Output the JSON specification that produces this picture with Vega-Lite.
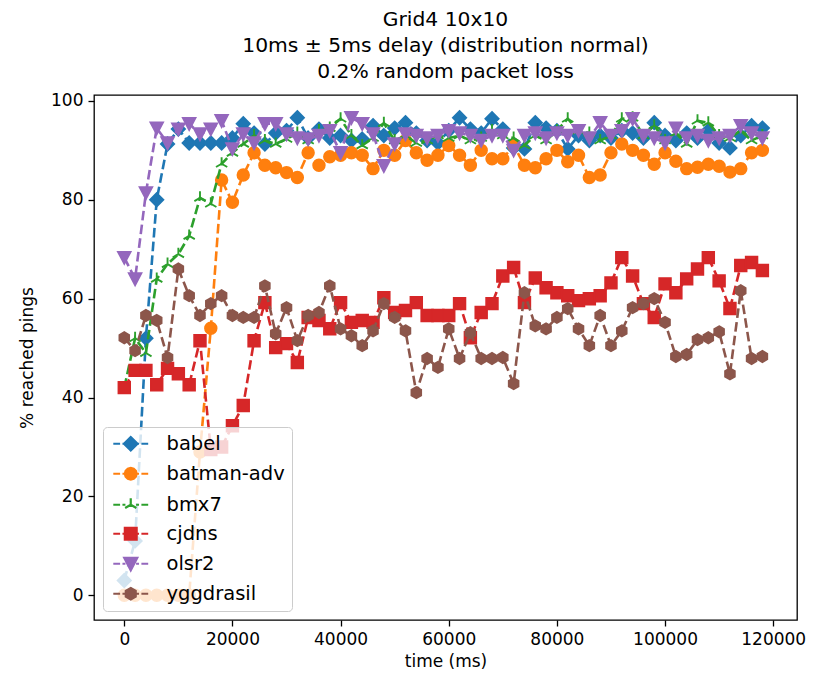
{
"$schema": "https://vega.github.io/schema/vega-lite/v6.json",
"width": 703, "height": 525,
"autosize": {"type": "none"},
"padding": {"left": 94, "top": 95, "right": 18, "bottom": 59},
"background": "white",
"config": {
  "font": "DejaVu Sans",
  "view": {"stroke": "black", "strokeWidth": 1.3},
  "axis": {"grid": false, "domain": false, "tickColor": "black", "tickSize": 6, "tickWidth": 1.3, "labelFontSize": 17, "labelColor": "black", "titleFontSize": 17, "titleFontWeight": "normal", "titleColor": "black", "labelFont": "DejaVu Sans", "titleFont": "DejaVu Sans", "labelPadding": 5},
  "legend": {"labelFontSize": 19.5, "labelColor": "black", "labelFont": "DejaVu Sans", "orient": "bottom-left", "offset": 9, "fillColor": "rgba(255,255,255,0.8)", "strokeColor": "#cccccc", "cornerRadius": 4, "padding": 7, "rowPadding": 8, "symbolSize": 125, "symbolOffset": 11, "labelOffset": 26, "symbolStrokeWidth": 2.2, "symbolOpacity": 1}
},
"title": {"text": ["Grid4 10x10", "10ms ± 5ms delay (distribution normal)", "0.2% random packet loss"], "fontSize": 20.3, "fontWeight": "normal", "lineHeight": 26, "font": "DejaVu Sans", "anchor": "middle", "offset": 10, "color": "black"},
"data": {"values": [
{"time":0,"protocol":"babel","pct":3},{"time":2000,"protocol":"babel","pct":11},{"time":4000,"protocol":"babel","pct":52},{"time":6000,"protocol":"babel","pct":80},{"time":8000,"protocol":"babel","pct":91.3},{"time":10000,"protocol":"babel","pct":94.3},{"time":12000,"protocol":"babel","pct":91.5},{"time":14000,"protocol":"babel","pct":91.5},{"time":16000,"protocol":"babel","pct":91.5},{"time":18000,"protocol":"babel","pct":91.5},
{"time":20000,"protocol":"babel","pct":92.5},{"time":22000,"protocol":"babel","pct":95.4},{"time":24000,"protocol":"babel","pct":93.5},{"time":26000,"protocol":"babel","pct":91.3},{"time":28000,"protocol":"babel","pct":93.5},{"time":30000,"protocol":"babel","pct":94},{"time":32000,"protocol":"babel","pct":96.6},{"time":34000,"protocol":"babel","pct":92.5},{"time":36000,"protocol":"babel","pct":94.3},{"time":38000,"protocol":"babel","pct":92.5},
{"time":40000,"protocol":"babel","pct":93},{"time":42000,"protocol":"babel","pct":92},{"time":44000,"protocol":"babel","pct":92.3},{"time":46000,"protocol":"babel","pct":95},{"time":48000,"protocol":"babel","pct":93},{"time":50000,"protocol":"babel","pct":94.5},{"time":52000,"protocol":"babel","pct":95.6},{"time":54000,"protocol":"babel","pct":93.5},{"time":56000,"protocol":"babel","pct":92},{"time":58000,"protocol":"babel","pct":91.5},
{"time":60000,"protocol":"babel","pct":94},{"time":62000,"protocol":"babel","pct":96.6},{"time":64000,"protocol":"babel","pct":94.3},{"time":66000,"protocol":"babel","pct":93.5},{"time":68000,"protocol":"babel","pct":96.4},{"time":70000,"protocol":"babel","pct":94.3},{"time":72000,"protocol":"babel","pct":90.5},{"time":74000,"protocol":"babel","pct":90.3},{"time":76000,"protocol":"babel","pct":95.6},{"time":78000,"protocol":"babel","pct":94.5},
{"time":80000,"protocol":"babel","pct":94},{"time":82000,"protocol":"babel","pct":90.3},{"time":84000,"protocol":"babel","pct":93},{"time":86000,"protocol":"babel","pct":92},{"time":88000,"protocol":"babel","pct":93},{"time":90000,"protocol":"babel","pct":92.5},{"time":92000,"protocol":"babel","pct":94},{"time":94000,"protocol":"babel","pct":93.5},{"time":96000,"protocol":"babel","pct":92.5},{"time":98000,"protocol":"babel","pct":95.6},
{"time":100000,"protocol":"babel","pct":93},{"time":102000,"protocol":"babel","pct":92},{"time":104000,"protocol":"babel","pct":93.5},{"time":106000,"protocol":"babel","pct":92.5},{"time":108000,"protocol":"babel","pct":94},{"time":110000,"protocol":"babel","pct":91.5},{"time":112000,"protocol":"babel","pct":90.5},{"time":114000,"protocol":"babel","pct":93},{"time":116000,"protocol":"babel","pct":95},{"time":118000,"protocol":"babel","pct":94.5},

{"time":0,"protocol":"batman-adv","pct":0},{"time":2000,"protocol":"batman-adv","pct":0},{"time":4000,"protocol":"batman-adv","pct":0},{"time":6000,"protocol":"batman-adv","pct":0},{"time":8000,"protocol":"batman-adv","pct":0},{"time":10000,"protocol":"batman-adv","pct":0},{"time":12000,"protocol":"batman-adv","pct":0},{"time":14000,"protocol":"batman-adv","pct":29},{"time":16000,"protocol":"batman-adv","pct":54},{"time":18000,"protocol":"batman-adv","pct":84},
{"time":20000,"protocol":"batman-adv","pct":79.5},{"time":22000,"protocol":"batman-adv","pct":85},{"time":24000,"protocol":"batman-adv","pct":89.5},{"time":26000,"protocol":"batman-adv","pct":87},{"time":28000,"protocol":"batman-adv","pct":86.5},{"time":30000,"protocol":"batman-adv","pct":85.5},{"time":32000,"protocol":"batman-adv","pct":84.5},{"time":34000,"protocol":"batman-adv","pct":89.5},{"time":36000,"protocol":"batman-adv","pct":87},{"time":38000,"protocol":"batman-adv","pct":88.7},
{"time":40000,"protocol":"batman-adv","pct":89},{"time":42000,"protocol":"batman-adv","pct":89.5},{"time":44000,"protocol":"batman-adv","pct":89},{"time":46000,"protocol":"batman-adv","pct":86.3},{"time":48000,"protocol":"batman-adv","pct":90},{"time":50000,"protocol":"batman-adv","pct":89},{"time":52000,"protocol":"batman-adv","pct":92},{"time":54000,"protocol":"batman-adv","pct":89.5},{"time":56000,"protocol":"batman-adv","pct":88},{"time":58000,"protocol":"batman-adv","pct":89},
{"time":60000,"protocol":"batman-adv","pct":91},{"time":62000,"protocol":"batman-adv","pct":89},{"time":64000,"protocol":"batman-adv","pct":87},{"time":66000,"protocol":"batman-adv","pct":90},{"time":68000,"protocol":"batman-adv","pct":88.3},{"time":70000,"protocol":"batman-adv","pct":88.3},{"time":72000,"protocol":"batman-adv","pct":91},{"time":74000,"protocol":"batman-adv","pct":87},{"time":76000,"protocol":"batman-adv","pct":86.5},{"time":78000,"protocol":"batman-adv","pct":88.3},
{"time":80000,"protocol":"batman-adv","pct":90},{"time":82000,"protocol":"batman-adv","pct":87.7},{"time":84000,"protocol":"batman-adv","pct":89},{"time":86000,"protocol":"batman-adv","pct":84.5},{"time":88000,"protocol":"batman-adv","pct":85},{"time":90000,"protocol":"batman-adv","pct":89.5},{"time":92000,"protocol":"batman-adv","pct":91.3},{"time":94000,"protocol":"batman-adv","pct":90},{"time":96000,"protocol":"batman-adv","pct":89},{"time":98000,"protocol":"batman-adv","pct":87.2},
{"time":100000,"protocol":"batman-adv","pct":89.5},{"time":102000,"protocol":"batman-adv","pct":87.8},{"time":104000,"protocol":"batman-adv","pct":86.3},{"time":106000,"protocol":"batman-adv","pct":86.6},{"time":108000,"protocol":"batman-adv","pct":87.2},{"time":110000,"protocol":"batman-adv","pct":86.8},{"time":112000,"protocol":"batman-adv","pct":85.6},{"time":114000,"protocol":"batman-adv","pct":86.3},{"time":116000,"protocol":"batman-adv","pct":89.5},{"time":118000,"protocol":"batman-adv","pct":90},

{"time":0,"protocol":"bmx7","pct":42},{"time":2000,"protocol":"bmx7","pct":52},{"time":4000,"protocol":"bmx7","pct":49},{"time":6000,"protocol":"bmx7","pct":64},{"time":8000,"protocol":"bmx7","pct":67},{"time":10000,"protocol":"bmx7","pct":69},{"time":12000,"protocol":"bmx7","pct":72.7},{"time":14000,"protocol":"bmx7","pct":80.4},{"time":16000,"protocol":"bmx7","pct":79.2},{"time":18000,"protocol":"bmx7","pct":87.3},
{"time":20000,"protocol":"bmx7","pct":89.5},{"time":22000,"protocol":"bmx7","pct":91.3},{"time":24000,"protocol":"bmx7","pct":93},{"time":26000,"protocol":"bmx7","pct":92},{"time":28000,"protocol":"bmx7","pct":91.3},{"time":30000,"protocol":"bmx7","pct":92.3},{"time":32000,"protocol":"bmx7","pct":93.5},{"time":34000,"protocol":"bmx7","pct":92},{"time":36000,"protocol":"bmx7","pct":94},{"time":38000,"protocol":"bmx7","pct":94.5},
{"time":40000,"protocol":"bmx7","pct":96.4},{"time":42000,"protocol":"bmx7","pct":93},{"time":44000,"protocol":"bmx7","pct":91},{"time":46000,"protocol":"bmx7","pct":92.5},{"time":48000,"protocol":"bmx7","pct":95.5},{"time":50000,"protocol":"bmx7","pct":92},{"time":52000,"protocol":"bmx7","pct":93},{"time":54000,"protocol":"bmx7","pct":91.5},{"time":56000,"protocol":"bmx7","pct":92},{"time":58000,"protocol":"bmx7","pct":93},
{"time":60000,"protocol":"bmx7","pct":92.5},{"time":62000,"protocol":"bmx7","pct":93},{"time":64000,"protocol":"bmx7","pct":92},{"time":66000,"protocol":"bmx7","pct":92.5},{"time":68000,"protocol":"bmx7","pct":94},{"time":70000,"protocol":"bmx7","pct":93},{"time":72000,"protocol":"bmx7","pct":92.5},{"time":74000,"protocol":"bmx7","pct":91},{"time":76000,"protocol":"bmx7","pct":93},{"time":78000,"protocol":"bmx7","pct":92},
{"time":80000,"protocol":"bmx7","pct":94},{"time":82000,"protocol":"bmx7","pct":96.4},{"time":84000,"protocol":"bmx7","pct":94},{"time":86000,"protocol":"bmx7","pct":93.5},{"time":88000,"protocol":"bmx7","pct":92},{"time":90000,"protocol":"bmx7","pct":93},{"time":92000,"protocol":"bmx7","pct":96.4},{"time":94000,"protocol":"bmx7","pct":96.6},{"time":96000,"protocol":"bmx7","pct":93},{"time":98000,"protocol":"bmx7","pct":95},
{"time":100000,"protocol":"bmx7","pct":92},{"time":102000,"protocol":"bmx7","pct":93.5},{"time":104000,"protocol":"bmx7","pct":91.3},{"time":106000,"protocol":"bmx7","pct":96},{"time":108000,"protocol":"bmx7","pct":95.6},{"time":110000,"protocol":"bmx7","pct":93},{"time":112000,"protocol":"bmx7","pct":92.5},{"time":114000,"protocol":"bmx7","pct":94},{"time":116000,"protocol":"bmx7","pct":92},{"time":118000,"protocol":"bmx7","pct":93},

{"time":0,"protocol":"cjdns","pct":42},{"time":2000,"protocol":"cjdns","pct":45.5},{"time":4000,"protocol":"cjdns","pct":45.5},{"time":6000,"protocol":"cjdns","pct":42.6},{"time":8000,"protocol":"cjdns","pct":45.9},{"time":10000,"protocol":"cjdns","pct":44.8},{"time":12000,"protocol":"cjdns","pct":42.6},{"time":14000,"protocol":"cjdns","pct":51.5},{"time":16000,"protocol":"cjdns","pct":29.5},{"time":18000,"protocol":"cjdns","pct":30},
{"time":20000,"protocol":"cjdns","pct":34.3},{"time":22000,"protocol":"cjdns","pct":38.4},{"time":24000,"protocol":"cjdns","pct":51.5},{"time":26000,"protocol":"cjdns","pct":59.2},{"time":28000,"protocol":"cjdns","pct":50.1},{"time":30000,"protocol":"cjdns","pct":50.9},{"time":32000,"protocol":"cjdns","pct":47.1},{"time":34000,"protocol":"cjdns","pct":56.2},{"time":36000,"protocol":"cjdns","pct":55.6},{"time":38000,"protocol":"cjdns","pct":53.9},
{"time":40000,"protocol":"cjdns","pct":59.2},{"time":42000,"protocol":"cjdns","pct":55.2},{"time":44000,"protocol":"cjdns","pct":55.6},{"time":46000,"protocol":"cjdns","pct":55.2},{"time":48000,"protocol":"cjdns","pct":60.2},{"time":50000,"protocol":"cjdns","pct":57.2},{"time":52000,"protocol":"cjdns","pct":57.6},{"time":54000,"protocol":"cjdns","pct":59.2},{"time":56000,"protocol":"cjdns","pct":56.6},{"time":58000,"protocol":"cjdns","pct":56.6},
{"time":60000,"protocol":"cjdns","pct":56.6},{"time":62000,"protocol":"cjdns","pct":59},{"time":64000,"protocol":"cjdns","pct":52.1},{"time":66000,"protocol":"cjdns","pct":57.2},{"time":68000,"protocol":"cjdns","pct":59},{"time":70000,"protocol":"cjdns","pct":64.6},{"time":72000,"protocol":"cjdns","pct":66.3},{"time":74000,"protocol":"cjdns","pct":59.2},{"time":76000,"protocol":"cjdns","pct":64.2},{"time":78000,"protocol":"cjdns","pct":62.2},
{"time":80000,"protocol":"cjdns","pct":61.2},{"time":82000,"protocol":"cjdns","pct":60.6},{"time":84000,"protocol":"cjdns","pct":59.6},{"time":86000,"protocol":"cjdns","pct":60},{"time":88000,"protocol":"cjdns","pct":60.6},{"time":90000,"protocol":"cjdns","pct":63.2},{"time":92000,"protocol":"cjdns","pct":68.3},{"time":94000,"protocol":"cjdns","pct":64.6},{"time":96000,"protocol":"cjdns","pct":59},{"time":98000,"protocol":"cjdns","pct":56.2},
{"time":100000,"protocol":"cjdns","pct":63},{"time":102000,"protocol":"cjdns","pct":61.2},{"time":104000,"protocol":"cjdns","pct":64},{"time":106000,"protocol":"cjdns","pct":66},{"time":108000,"protocol":"cjdns","pct":68.3},{"time":110000,"protocol":"cjdns","pct":63.6},{"time":112000,"protocol":"cjdns","pct":58},{"time":114000,"protocol":"cjdns","pct":66.7},{"time":116000,"protocol":"cjdns","pct":67.3},{"time":118000,"protocol":"cjdns","pct":65.7},

{"time":0,"protocol":"olsr2","pct":68.3},{"time":2000,"protocol":"olsr2","pct":64},{"time":4000,"protocol":"olsr2","pct":81.4},{"time":6000,"protocol":"olsr2","pct":94.5},{"time":8000,"protocol":"olsr2","pct":91.5},{"time":10000,"protocol":"olsr2","pct":94.3},{"time":12000,"protocol":"olsr2","pct":95.4},{"time":14000,"protocol":"olsr2","pct":93.3},{"time":16000,"protocol":"olsr2","pct":94.3},{"time":18000,"protocol":"olsr2","pct":96},
{"time":20000,"protocol":"olsr2","pct":90.3},{"time":22000,"protocol":"olsr2","pct":93.3},{"time":24000,"protocol":"olsr2","pct":91.5},{"time":26000,"protocol":"olsr2","pct":95.4},{"time":28000,"protocol":"olsr2","pct":95.4},{"time":30000,"protocol":"olsr2","pct":93.3},{"time":32000,"protocol":"olsr2","pct":92.5},{"time":34000,"protocol":"olsr2","pct":92.3},{"time":36000,"protocol":"olsr2","pct":93},{"time":38000,"protocol":"olsr2","pct":94},
{"time":40000,"protocol":"olsr2","pct":89.5},{"time":42000,"protocol":"olsr2","pct":96.6},{"time":44000,"protocol":"olsr2","pct":95.4},{"time":46000,"protocol":"olsr2","pct":93.3},{"time":48000,"protocol":"olsr2","pct":86.9},{"time":50000,"protocol":"olsr2","pct":91.3},{"time":52000,"protocol":"olsr2","pct":93.3},{"time":54000,"protocol":"olsr2","pct":93},{"time":56000,"protocol":"olsr2","pct":92.5},{"time":58000,"protocol":"olsr2","pct":93},
{"time":60000,"protocol":"olsr2","pct":94},{"time":62000,"protocol":"olsr2","pct":93.5},{"time":64000,"protocol":"olsr2","pct":93},{"time":66000,"protocol":"olsr2","pct":92},{"time":68000,"protocol":"olsr2","pct":93},{"time":70000,"protocol":"olsr2","pct":93},{"time":72000,"protocol":"olsr2","pct":90},{"time":74000,"protocol":"olsr2","pct":93},{"time":76000,"protocol":"olsr2","pct":93.5},{"time":78000,"protocol":"olsr2","pct":92.5},
{"time":80000,"protocol":"olsr2","pct":93.5},{"time":82000,"protocol":"olsr2","pct":93},{"time":84000,"protocol":"olsr2","pct":94},{"time":86000,"protocol":"olsr2","pct":92.5},{"time":88000,"protocol":"olsr2","pct":95.6},{"time":90000,"protocol":"olsr2","pct":93},{"time":92000,"protocol":"olsr2","pct":94},{"time":94000,"protocol":"olsr2","pct":96.4},{"time":96000,"protocol":"olsr2","pct":93},{"time":98000,"protocol":"olsr2","pct":92.5},
{"time":100000,"protocol":"olsr2","pct":91.5},{"time":102000,"protocol":"olsr2","pct":94.5},{"time":104000,"protocol":"olsr2","pct":92.5},{"time":106000,"protocol":"olsr2","pct":93},{"time":108000,"protocol":"olsr2","pct":92},{"time":110000,"protocol":"olsr2","pct":92.5},{"time":112000,"protocol":"olsr2","pct":93},{"time":114000,"protocol":"olsr2","pct":95},{"time":116000,"protocol":"olsr2","pct":93.5},{"time":118000,"protocol":"olsr2","pct":92.5},

{"time":0,"protocol":"yggdrasil","pct":52.1},{"time":2000,"protocol":"yggdrasil","pct":49.5},{"time":4000,"protocol":"yggdrasil","pct":56.6},{"time":6000,"protocol":"yggdrasil","pct":55.6},{"time":8000,"protocol":"yggdrasil","pct":48.1},{"time":10000,"protocol":"yggdrasil","pct":66},{"time":12000,"protocol":"yggdrasil","pct":60.6},{"time":14000,"protocol":"yggdrasil","pct":56.6},{"time":16000,"protocol":"yggdrasil","pct":59},{"time":18000,"protocol":"yggdrasil","pct":60.6},
{"time":20000,"protocol":"yggdrasil","pct":56.6},{"time":22000,"protocol":"yggdrasil","pct":56.2},{"time":24000,"protocol":"yggdrasil","pct":56.2},{"time":26000,"protocol":"yggdrasil","pct":62.6},{"time":28000,"protocol":"yggdrasil","pct":52.9},{"time":30000,"protocol":"yggdrasil","pct":58.2},{"time":32000,"protocol":"yggdrasil","pct":51.5},{"time":34000,"protocol":"yggdrasil","pct":56.6},{"time":36000,"protocol":"yggdrasil","pct":57.2},{"time":38000,"protocol":"yggdrasil","pct":62.6},
{"time":40000,"protocol":"yggdrasil","pct":53.9},{"time":42000,"protocol":"yggdrasil","pct":52.5},{"time":44000,"protocol":"yggdrasil","pct":50.5},{"time":46000,"protocol":"yggdrasil","pct":53.5},{"time":48000,"protocol":"yggdrasil","pct":59},{"time":50000,"protocol":"yggdrasil","pct":56.2},{"time":52000,"protocol":"yggdrasil","pct":53.5},{"time":54000,"protocol":"yggdrasil","pct":41},{"time":56000,"protocol":"yggdrasil","pct":47.9},{"time":58000,"protocol":"yggdrasil","pct":46.1},
{"time":60000,"protocol":"yggdrasil","pct":53.9},{"time":62000,"protocol":"yggdrasil","pct":47.9},{"time":64000,"protocol":"yggdrasil","pct":53.1},{"time":66000,"protocol":"yggdrasil","pct":47.9},{"time":68000,"protocol":"yggdrasil","pct":47.9},{"time":70000,"protocol":"yggdrasil","pct":48.1},{"time":72000,"protocol":"yggdrasil","pct":42.8},{"time":74000,"protocol":"yggdrasil","pct":61.2},{"time":76000,"protocol":"yggdrasil","pct":54.5},{"time":78000,"protocol":"yggdrasil","pct":53.9},
{"time":80000,"protocol":"yggdrasil","pct":56.2},{"time":82000,"protocol":"yggdrasil","pct":58},{"time":84000,"protocol":"yggdrasil","pct":53.9},{"time":86000,"protocol":"yggdrasil","pct":50.5},{"time":88000,"protocol":"yggdrasil","pct":56.6},{"time":90000,"protocol":"yggdrasil","pct":50.5},{"time":92000,"protocol":"yggdrasil","pct":53.5},{"time":94000,"protocol":"yggdrasil","pct":58.2},{"time":96000,"protocol":"yggdrasil","pct":59},{"time":98000,"protocol":"yggdrasil","pct":60},
{"time":100000,"protocol":"yggdrasil","pct":55.2},{"time":102000,"protocol":"yggdrasil","pct":48.3},{"time":104000,"protocol":"yggdrasil","pct":48.7},{"time":106000,"protocol":"yggdrasil","pct":51.7},{"time":108000,"protocol":"yggdrasil","pct":52.1},{"time":110000,"protocol":"yggdrasil","pct":53.3},{"time":112000,"protocol":"yggdrasil","pct":44.8},{"time":114000,"protocol":"yggdrasil","pct":61.6},{"time":116000,"protocol":"yggdrasil","pct":47.9},{"time":118000,"protocol":"yggdrasil","pct":48.3}
]},
"encoding": {
  "x": {"field": "time", "type": "quantitative", "scale": {"domain": [-5600, 124400], "nice": false, "zero": false}, "axis": {"values": [0, 20000, 40000, 60000, 80000, 100000, 120000], "format": "d", "title": "time (ms)", "titlePadding": 6}},
  "y": {"field": "pct", "type": "quantitative", "scale": {"domain": [-5, 101.2], "nice": false, "zero": false}, "axis": {"values": [0, 20, 40, 60, 80, 100], "title": "% reached pings", "titlePadding": 14}},
  "color": {"field": "protocol", "type": "nominal",
    "scale": {"domain": ["babel", "batman-adv", "bmx7", "cjdns", "olsr2", "yggdrasil"], "range": ["#1f77b4", "#ff7f0e", "#2ca02c", "#d62728", "#9467bd", "#8c564b"]},
    "legend": {"title": null,
      "encode": {"symbols": {"update": {
        "fill": {"scale": "color", "field": "value"},
        "stroke": {"scale": "color", "field": "value"},
        "strokeWidth": {"value": 2.2},
        "strokeDash": {"value": []},
        "opacity": {"value": 1},
        "size": {"value": 140},
        "shape": {"signal": "datum.value === 'babel' ? 'M-2.95,0L-1.8,0M-1.4,0L-0.9,0M0.9,0L1.4,0M1.8,0L2.95,0M0,-1.15L1.15,0L0,1.15L-1.15,0Z' : datum.value === 'batman-adv' ? 'M-2.95,0L-1.8,0M-1.4,0L-0.9,0M0.9,0L1.4,0M1.8,0L2.95,0M1,0L0.866,0.5L0.5,0.866L0,1L-0.5,0.866L-0.866,0.5L-1,0L-0.866,-0.5L-0.5,-0.866L0,-1L0.5,-0.866L0.866,-0.5Z' : datum.value === 'bmx7' ? 'M-2.95,0L-1.8,0M-1.4,0L-0.9,0M0.9,0L1.4,0M1.8,0L2.95,0M0,0L0,-1.1M0,0L-0.95,0.55M0,0L0.95,0.55' : datum.value === 'cjdns' ? 'M-2.95,0L-1.8,0M-1.4,0L-0.9,0M0.9,0L1.4,0M1.8,0L2.95,0M-1,-1L1,-1L1,1L-1,1Z' : datum.value === 'olsr2' ? 'M-2.95,0L-1.8,0M-1.4,0L-0.9,0M0.9,0L1.4,0M1.8,0L2.95,0M-1.1,-1L1.1,-1L0,1.1Z' : 'M-2.95,0L-1.8,0M-1.4,0L-0.9,0M0.9,0L1.4,0M1.8,0L2.95,0M0,-0.97L0.84,-0.485L0.84,0.485L0,0.97L-0.84,0.485L-0.84,-0.485Z'"}
      }}}
    }
  }
},
"layer": [
  {"transform": [{"filter": {"field": "protocol", "equal": "babel"}}], "mark": {"type": "line", "strokeDash": [9.6, 4.2], "strokeWidth": 2.6}},
  {"transform": [{"filter": {"field": "protocol", "equal": "babel"}}], "mark": {"type": "point", "filled": true, "shape": "M0,-1.15L1.15,0L0,1.15L-1.15,0Z", "size": 140, "opacity": 1, "stroke": "#1f77b4", "strokeWidth": 1.6}},
  {"transform": [{"filter": {"field": "protocol", "equal": "batman-adv"}}], "mark": {"type": "line", "strokeDash": [9.6, 4.2], "strokeWidth": 2.6}},
  {"transform": [{"filter": {"field": "protocol", "equal": "batman-adv"}}], "mark": {"type": "point", "filled": true, "shape": "circle", "size": 140, "opacity": 1, "stroke": "#ff7f0e", "strokeWidth": 1.6}},
  {"transform": [{"filter": {"field": "protocol", "equal": "bmx7"}}], "mark": {"type": "line", "strokeDash": [9.6, 4.2], "strokeWidth": 2.6}},
  {"transform": [{"filter": {"field": "protocol", "equal": "bmx7"}}], "mark": {"type": "point", "filled": false, "shape": "M0,0L0,-1.1M0,0L-0.95,0.55M0,0L0.95,0.55", "size": 140, "opacity": 1, "strokeWidth": 1.9}},
  {"transform": [{"filter": {"field": "protocol", "equal": "cjdns"}}], "mark": {"type": "line", "strokeDash": [9.6, 4.2], "strokeWidth": 2.6}},
  {"transform": [{"filter": {"field": "protocol", "equal": "cjdns"}}], "mark": {"type": "point", "filled": true, "shape": "square", "size": 140, "opacity": 1, "stroke": "#d62728", "strokeWidth": 1.6}},
  {"transform": [{"filter": {"field": "protocol", "equal": "olsr2"}}], "mark": {"type": "line", "strokeDash": [9.6, 4.2], "strokeWidth": 2.6}},
  {"transform": [{"filter": {"field": "protocol", "equal": "olsr2"}}], "mark": {"type": "point", "filled": true, "shape": "M-1.1,-1L1.1,-1L0,1.1Z", "size": 140, "opacity": 1, "stroke": "#9467bd", "strokeWidth": 1.6}},
  {"transform": [{"filter": {"field": "protocol", "equal": "yggdrasil"}}], "mark": {"type": "line", "strokeDash": [9.6, 4.2], "strokeWidth": 2.6}},
  {"transform": [{"filter": {"field": "protocol", "equal": "yggdrasil"}}], "mark": {"type": "point", "filled": true, "shape": "M0,-0.97L0.84,-0.485L0.84,0.485L0,0.97L-0.84,0.485L-0.84,-0.485Z", "size": 140, "opacity": 1, "stroke": "#8c564b", "strokeWidth": 1.6}}
]
}
